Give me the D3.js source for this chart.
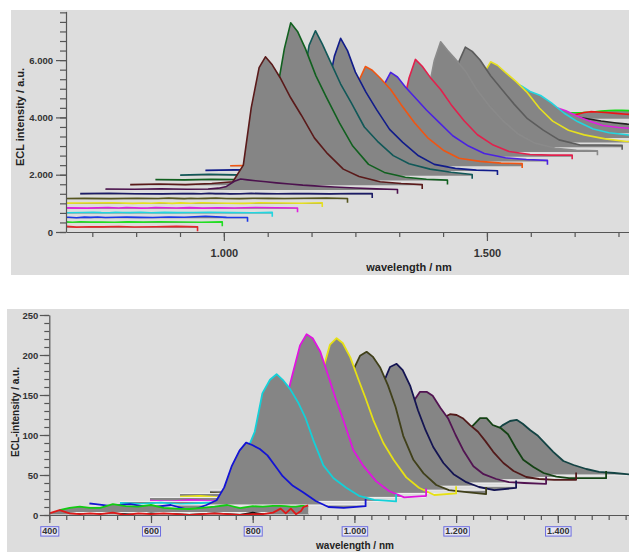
<!DOCTYPE html>
<html lang="en">
<head>
    <meta charset="UTF-8">
    <title>ECL spectra</title>
    <style>
        body { margin: 0; background: #fff; }
        svg { display: block; font-family: "Liberation Sans", Arial, sans-serif; }
        .axis path, .axis line { stroke: #555; stroke-width: 1.2; }
        .axis text { fill: #333; font-weight: bold; }
        .title { fill: #222; font-weight: bold; }
    </style>
</head>
<body>
    <svg id="chart" width="629" height="552"></svg>

    <script src="https://d3js.org/d3.v7.min.js"></script>

    <script>
// ---------- top panel: 24 shifted spectra (wavelength offset in nm from trace start) ----------
const topRel = [0, 55, 105, 155, 195, 215, 230, 245, 257, 270, 285, 305, 325, 350, 375, 405, 435, 475, 515, 555];
const topStart = [395, 442, 490, 537, 585, 632, 680, 727, 775, 822, 870, 917, 965, 1012, 1060, 1107, 1155, 1202, 1250, 1297, 1345, 1392, 1440, 1487];
const topBase = [150, 315, 480, 645, 810, 975, 1140, 1305, 1470, 1635, 1800, 1965, 2130, 2295, 2460, 2625, 2790, 2955, 3120, 3285, 3450, 3615, 3950, 4120];
const topTraces = [
    [30, 45, 25, 40, 20, 35, 45, 30, 25, 40, 30, 45, 20, 35, 30, 40, 25, 35, 45, 30],
    [35, 25, 40, 30, 45, 20, 35, 30, 40, 25, 45, 30, 35, 25, 40, 30, 45, 35, 25, 40],
    [30, 40, 25, 45, 30, 35, 20, 40, 30, 45, 25, 35, 40, 30, 25, 45, 35, 70, 30, 25],
    [35, 30, 40, 25, 35, 45, 30, 25, 40, 35, 30, 45, 25, 40, 30, 35, 45, 30, 25, 40],
    [30, 40, 35, 25, 45, 30, 40, 35, 25, 30, 45, 35, 30, 40, 25, 35, 30, 45, 35, 30],
    [40, 30, 35, 45, 25, 35, 30, 40, 35, 25, 40, 30, 45, 35, 30, 25, 40, 35, 30, 45],
    [30, 35, 25, 40, 30, 45, 35, 25, 40, 30, 35, 45, 30, 25, 40, 35, 30, 40, 45, 30],
    [35, 45, 30, 25, 40, 35, 30, 45, 35, 40, 25, 30, 45, 35, 30, 40, 35, 25, 40, 35],
    [30, 20, 40, 20, 30, 60, 120, 300, 380, 350, 320, 285, 245, 205, 165, 130, 100, 65, 35, 15],
    [20, 40, 20, 60, 120, 700, 2700, 4100, 4480, 4200, 3750, 3050, 2450, 1650, 1100, 560, 300, 120, 60, 20],
    [30, 20, 40, 30, 150, 900, 3000, 4600, 5500, 5200, 4600, 3650, 2900, 2000, 1200, 560, 280, 110, 40, 10],
    [20, 50, 30, 40, 120, 900, 2900, 4550, 5060, 4600, 4000, 3200, 2550, 1700, 1200, 700, 420, 230, 120, 40],
    [20, 40, 30, 50, 100, 800, 2600, 4000, 4630, 4200, 3450, 2750, 2150, 1450, 1000, 530, 230, 90, 30, 10],
    [20, 30, 20, 40, 80, 600, 1900, 3000, 3480, 3350, 3080, 2680, 2150, 1530, 1000, 560, 280, 170, 110, 90],
    [20, 40, 30, 40, 70, 500, 1700, 2700, 3110, 2950, 2600, 2200, 1800, 1350, 900, 540, 280, 130, 70, 40],
    [20, 30, 40, 30, 60, 300, 1500, 2750, 3400, 3160, 2780, 2350, 1820, 1250, 770, 410, 185, 80, 60, 60],
    [20, 30, 20, 40, 60, 400, 1800, 3200, 3850, 3550, 3250, 2800, 2200, 1600, 1100, 620, 320, 130, 60, 40],
    [20, 30, 20, 30, 60, 400, 1600, 3000, 3500, 3350, 3050, 2500, 2050, 1500, 1000, 600, 260, 80, 80, 70],
    [20, 30, 30, 40, 60, 400, 1500, 2450, 2820, 2700, 2450, 2140, 1780, 1200, 750, 430, 270, 130, 40, 20],
    [20, 30, 20, 30, 50, 300, 1100, 1700, 1900, 1800, 1620, 1480, 1230, 860, 570, 310, 180, 95, 50, 30],
    [20, 30, 30, 20, 40, 200, 600, 950, 1050, 1000, 900, 780, 610, 420, 270, 200, 160, 100, 60, 40],
    [20, 30, 20, 30, 40, 120, 300, 420, 460, 430, 380, 320, 260, 200, 150, 110, 80, 60, 40, 30],
    [20, 30, 20, 30, 40, 80, 150, 220, 250, 240, 220, 190, 160, 130, 100, 80, 60, 40, 30, 20],
    [30, 40, 30, 40, 50, 70, 100, 120, 130, 125, 115, 100, 90, 80, 70, 60, 50, 40, 30, 30]
];
const topXTicks = [1000, 1500];
const topYTicks = [0, 2000, 4000, 6000];

// ---------- bottom panel: 13 shifted spectra ----------
// the three front traces share one grid starting at 400 nm
const frontRel = [0, 20, 40, 60, 80, 100, 125, 150, 175, 200, 225, 250, 275, 300, 325, 350, 375, 400, 420, 440, 455, 465, 475, 485, 495, 500, 509];
const frontStart = [400, 400, 400];
const frontBase = [0, 0, 3];
const frontTraces = [
    [2, 6, 2, 1, 2, 1, 3, 0, 2, 1, 2, 1, 0, 1, 2, 1, 0, 1, 1, 3, 8, 2, 8, 1, 5, 10, 12],
    [null, 1, 2, 1, 0, 1, 2, 1, 0, 2, 1, 1, 0, 1, 2, 1, 0, 3, 1, 2, 1, 2, 1, 2, 1, 1, 1],
    [null, 3, 6, 7.5, 6, 6, 10.5, 8, 7.5, 9.5, 6, 5, 4.5, 6, 7.5, 9.5, 5.5, 8, 7.5, 8.5, 8.5, 8, 7.5, 7.5, 8.5, 8.5, 7]
];
const botRel = [0, 40, 80, 120, 160, 200, 230, 250, 265, 280, 295, 308, 320, 335, 350, 365, 380, 400, 420, 445, 470, 500, 543];
const botStart = [479, 539, 598, 657, 716, 775, 834, 893, 952, 1011];
const botBase = [12.5, 17, 22, 27, 31, 36, 40, 44, 47, 50];
const botTraces = [
    [2, -1, 1, -3, 0, -7, 0, 6, 22, 49, 68, 78, 75, 70, 62, 49, 36, 24, 16, 5, -2.5, -3.5, -1.5],
    [-2, -3, -1.5, -3.5, -2, -1, 35, 64, 87, 135, 152, 159, 152, 140, 124, 104, 77, 45, 29, 17, 7, 2, 0],
    [-4, -5, -3, -4.5, -3.5, 8, 45, 97, 115, 153, 190, 204, 199, 182, 153, 124, 97, 59, 39, 20, 8, 0, 2],
    [-4, -3, -5, -3.5, -4, 10, 18, 60, 105, 152, 186, 194, 188, 170, 144, 119, 92, 63, 42, 20, 7, -2, 0],
    [-3, -5, -4, -3, -4.5, 8, 25, 63, 100, 148, 168, 173, 167, 153, 131, 104, 68, 38, 21, 6.5, 0, -2, -5],
    [-4, -3, -5, -4, -3, 6, 22, 58, 89, 126, 149, 153, 145, 125, 95, 70, 49, 29, 15, 5, -1, -5, -2],
    [-3, -4, -3, -5, -4, 5, 20, 47, 72, 100, 114, 114, 109, 94, 81, 60, 41, 21, 11, 5, 1, 0, -1],
    [-4, -3, -4, -3, -4, 5, 20, 43, 62, 77, 82, 81, 77, 68, 60, 48, 35, 21, 11, 3.5, 1, 0, 0],
    [-3, -4, -3, -4, -3, 4, 15, 34, 53, 64, 74, 74, 65.5, 62, 54, 37, 22, 13, 5.5, 1, -1, -1, -1],
    [-3, -4, -3, -3, -4, 5, 18, 37, 54, 62, 67.5, 69, 64, 56, 49, 39, 29, 17.5, 12.5, 7.5, 4, 2.5, 0]
];
const botXTicks = [400, 600, 800, 1000, 1200, 1400];
const botYTicks = [0, 50, 100, 150, 200, 250];

// colours (front trace first)
const topColors = ["#e3262a", "#22dd22", "#1c38e6", "#22d6e0", "#e020e0", "#e6e020", "#55551e", "#1b1b66",
    "#4c124e", "#5a1a1a", "#11601f", "#115858", "#111c8a", "#f05512", "#4a22e2", "#e2204c",
    "#8a8a8a", "#5c5c5c", "#e6e020", "#22d6e0", "#e020e0", "#222222", "#ee1414", "#14dd14"];
const botColors = ["#e01818", "#111111", "#12cc12", "#1414d4", "#14d0d8", "#e014e0", "#e6e014",
    "#40401a", "#141452", "#521452", "#521a1a", "#144214", "#144444"];
const FILL = "#858585";
const BG = "#dddddd";

const fmt = d => d3.format(",")(d).replace(/,/g, ".");
const svg = d3.select("#chart");

// draw stacked traces back to front: grey area down to own baseline, then coloured line
function drawTraces(g, traces, x, y, withBase, width) {
    traces.slice().reverse().forEach(s => {
        const pts = s.rel.map((r, j) => ({ w: s.start + r, v: s.values[j] }))
            .filter(p => p.v !== null);
        const area = d3.area()
            .x(d => x(d.w))
            .y0(y(s.base))
            .y1(d => y(s.base + d.v));
        g.append("path").attr("d", area(pts)).attr("fill", FILL);

        if (withBase) {
            g.append("line")
                .attr("x1", x(pts[0].w)).attr("x2", x(pts[pts.length - 1].w))
                .attr("y1", y(s.base)).attr("y2", y(s.base))
                .attr("stroke", "#f4f4f4").attr("stroke-width", 1);
        }

        // small end mark at the last point of each trace
        const last = pts[pts.length - 1];
        const linePts = s.drop ? pts.concat([{ w: last.w, v: last.v + s.drop }]) : pts;
        const line = d3.line()
            .x(d => x(d.w))
            .y(d => y(s.base + d.v));
        g.append("path")
            .attr("d", line(linePts))
            .attr("fill", "none")
            .attr("stroke", s.color)
            .attr("stroke-width", width)
            .attr("stroke-linejoin", "round");
    });
}

// ================= TOP PANEL =================
svg.append("rect").attr("x", 11).attr("y", 10).attr("width", 618).attr("height", 265).attr("fill", BG);

const xT = d3.scaleLinear().domain([700, 1770]).range([66, 629]);
const yT = d3.scaleLinear().domain([0, 7700]).range([232, 11.4]);

svg.append("clipPath").attr("id", "clipTop")
    .append("rect").attr("x", 66).attr("y", 0).attr("width", 563).attr("height", 234);

const topSeries = topTraces.map((vals, i) => ({
    rel: topRel, start: topStart[i], base: topBase[i], values: vals, color: topColors[i], drop: -150
}));
drawTraces(svg.append("g").attr("clip-path", "url(#clipTop)"), topSeries, xT, yT, false, 1.6);

// axes
svg.append("g").attr("class", "axis").attr("transform", "translate(0,232)")
    .call(d3.axisBottom(xT).tickValues(d3.range(750, 1770, 250 / 3)).tickSize(5).tickFormat(""))
    .call(g => g.select(".domain").remove());
svg.append("g").attr("class", "axis").attr("transform", "translate(0,232)")
    .call(d3.axisBottom(xT).tickValues(topXTicks).tickSize(9).tickSizeOuter(0).tickPadding(8).tickFormat(fmt))
    .call(g => g.selectAll("text").style("font-size", "11px"));
svg.append("g").attr("class", "axis").attr("transform", "translate(66,0)")
    .call(d3.axisLeft(yT).tickValues(d3.range(0, 7700, 2000 / 6)).tickSize(6).tickFormat(""))
    .call(g => g.select(".domain").remove());
svg.append("g").attr("class", "axis").attr("transform", "translate(66,0)")
    .call(d3.axisLeft(yT).tickValues(topYTicks).tickSize(10).tickSizeOuter(0).tickPadding(3).tickFormat(fmt))
    .call(g => g.selectAll("text").style("font-size", "9.5px"));

svg.append("text").attr("class", "title")
    .attr("transform", "translate(24,117) rotate(-90)")
    .attr("text-anchor", "middle").style("font-size", "11px")
    .text("ECL intensity / a.u.");
svg.append("text").attr("class", "title")
    .attr("x", 409).attr("y", 271)
    .attr("text-anchor", "middle").style("font-size", "11px")
    .text("wavelength / nm");

// ================= BOTTOM PANEL =================
svg.append("rect").attr("x", 7).attr("y", 309).attr("width", 622).attr("height", 243).attr("fill", BG);

const xB = d3.scaleLinear().domain([400, 1540]).range([49.3, 629]);
const yB = d3.scaleLinear().domain([0, 250]).range([515, 315]);

svg.append("clipPath").attr("id", "clipBot")
    .append("rect").attr("x", 49.3).attr("y", 300).attr("width", 580).attr("height", 216);

const botSeries = frontTraces.map((vals, i) => ({
    rel: frontRel, start: frontStart[i], base: frontBase[i], values: vals, color: botColors[i], drop: 0
})).concat(botTraces.map((vals, i) => ({
    rel: botRel, start: botStart[i], base: botBase[i], values: vals, color: botColors[i + 3], drop: 9
})));
drawTraces(svg.append("g").attr("clip-path", "url(#clipBot)"), botSeries, xB, yB, true, 1.8);

// axes
svg.append("g").attr("class", "axis").attr("transform", "translate(0,515)")
    .call(d3.axisBottom(xB).tickValues(d3.range(400, 1541, 100 / 3)).tickSize(5).tickFormat(""))
    .call(g => g.select(".domain").remove());
const xAxisB = svg.append("g").attr("class", "axis").attr("transform", "translate(0,515)")
    .call(d3.axisBottom(xB).tickValues(botXTicks).tickSize(8).tickSizeOuter(0).tickPadding(5).tickFormat(fmt))
    .call(g => g.selectAll("text").style("font-size", "9px"));

// small blue boxes around the wavelength tick labels
xAxisB.selectAll(".tick").each(function () {
    const t = d3.select(this).select("text");
    const bb = t.node().getBBox();
    d3.select(this).insert("rect", "text")
        .attr("x", bb.x - 1.5).attr("y", bb.y + 0.3)
        .attr("width", bb.width + 3).attr("height", bb.height - 0.6)
        .attr("fill", "#e6e6f2").attr("stroke", "#6c6ce0").attr("stroke-width", 1);
});

svg.append("g").attr("class", "axis").attr("transform", "translate(49.3,0)")
    .call(d3.axisLeft(yB).tickValues(d3.range(0, 251, 10)).tickSize(5).tickFormat(""))
    .call(g => g.select(".domain").remove());
svg.append("g").attr("class", "axis").attr("transform", "translate(49.3,0)")
    .call(d3.axisLeft(yB).tickValues(botYTicks).tickSize(9.5).tickSizeOuter(0).tickPadding(1.5).tickFormat(fmt))
    .call(g => g.selectAll("text").style("font-size", "9.5px"));

svg.append("text").attr("class", "title")
    .attr("transform", "translate(19,412) rotate(-90)")
    .attr("text-anchor", "middle").style("font-size", "10px")
    .text("ECL-intensity / a.u.");
svg.append("text").attr("class", "title")
    .attr("x", 355).attr("y", 549)
    .attr("text-anchor", "middle").style("font-size", "10px")
    .text("wavelength / nm");
    </script>
</body>
</html>
